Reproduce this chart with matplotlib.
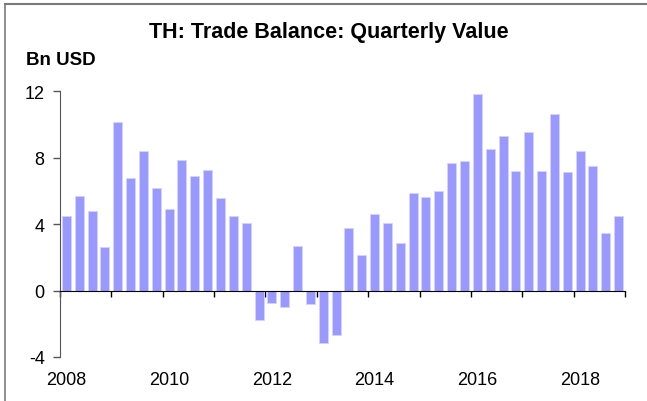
import matplotlib
matplotlib.use("Agg")
import matplotlib.pyplot as plt
import matplotlib.transforms as mtransforms
from matplotlib.lines import Line2D
import numpy as np

plt.rcParams["font.family"] = ["Liberation Sans", "DejaVu Sans"]

YEARS = list(range(2008, 2019))
QUARTERS = ["Q1", "Q2", "Q3", "Q4"]
LABEL_YEARS = [2008, 2010, 2012, 2014, 2016, 2018]

# Trade balance, Bn USD, 2008Q1 .. 2018Q4
TRADE_BALANCE = [
    4.48, 5.68, 4.80, 2.62,
    10.16, 6.74, 8.42, 6.14,
    4.92, 7.86, 6.86, 7.24,
    5.58, 4.48, 4.04, -1.78,
    -0.78, -1.02, 2.68, -0.82,
    -3.18, -2.68, 3.78, 2.16,
    4.60, 4.08, 2.86, 5.86,
    5.62, 5.96, 7.66, 7.78,
    11.82, 8.54, 9.32, 7.16,
    9.54, 7.18, 10.64, 7.12,
    8.42, 7.50, 3.48, 4.46,
]

Y_TICKS = [-4, 0, 4, 8, 12]


def main() -> None:
    fig = plt.figure(figsize=(6.47, 4.02), dpi=100)
    ax = fig.add_axes([0.0927, 0.1095, 0.8733, 0.6615])

    x = np.arange(len(TRADE_BALANCE))
    ax.bar(x, TRADE_BALANCE, width=0.7, color="#9999ff", edgecolor="#d4d4ff", linewidth=0.6, zorder=2)

    ax.set_xlim(-0.5, len(TRADE_BALANCE) - 0.5)
    ax.set_ylim(-4, 12)
    ax.set_yticks(Y_TICKS)
    ax.set_yticklabels([str(v) for v in Y_TICKS], fontsize=13)

    year_bounds = np.arange(0, len(TRADE_BALANCE) + 1, 4) - 0.5
    ax.set_xticks(year_bounds)
    ax.set_xticklabels([])
    ax.tick_params(axis="x", direction="out", length=4, width=1, color="black")
    ax.tick_params(axis="y", direction="out", length=5, width=1, color="#555555", pad=6)

    ax.spines["top"].set_visible(False)
    ax.spines["right"].set_visible(False)
    ax.spines["bottom"].set_position(("data", 0))
    ax.spines["bottom"].set_color("black")
    ax.spines["bottom"].set_zorder(3)
    ax.spines["left"].set_color("#555555")

    trans = mtransforms.blended_transform_factory(ax.transData, ax.transAxes)
    for year in LABEL_YEARS:
        pos = (year - YEARS[0]) * 4
        ax.text(pos, -0.086, str(year), transform=trans, ha="center", va="center", fontsize=13)

    fig.text(0.508, 0.92, "TH: Trade Balance: Quarterly Value", ha="center", va="center",
             fontsize=15.5, fontweight="bold")
    fig.text(0.040, 0.85, "Bn USD", ha="left", va="center", fontsize=13.5, fontweight="bold")

    # frame of the original chart box (top and left edges visible)
    fig.add_artist(Line2D([5 / 647, 1.0], [1 - 5 / 402, 1 - 5 / 402], transform=fig.transFigure,
                          color="#7a7a7a", linewidth=1.5))
    fig.add_artist(Line2D([5 / 647, 5 / 647], [0.0, 1 - 5 / 402], transform=fig.transFigure,
                          color="#7a7a7a", linewidth=1.2))

    fig.savefig("out.png", dpi=100)
    plt.close(fig)


if __name__ == "__main__":
    main()
